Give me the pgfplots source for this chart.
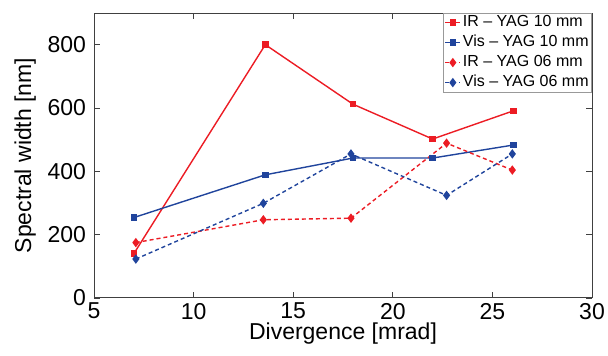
\documentclass[border=0pt]{standalone}
\usepackage{fontspec}
\setmainfont{Liberation Sans}
\usepackage{pgfplots}
\pgfplotsset{compat=1.18}
\definecolor{myred}{RGB}{236,28,36}
\definecolor{myblue}{RGB}{32,68,156}
\begin{document}
\fontsize{11.5}{13}\selectfont
\begin{tikzpicture}
\begin{axis}[
  scale only axis,
  width=249pt, height=142.5pt,
  xmin=5, xmax=30, ymin=0, ymax=900,
  xtick={5,10,15,20,25,30},
  ytick={0,200,400,600,800},
  tick align=inside,
  tick pos=both,
  major tick length=3pt,
  axis line style={black!75, line width=0.5pt},
  tick style={black!75, line width=0.4pt},
  /pgf/number format/assume math mode=true,
  ticklabel style={font=\fontsize{11.5}{13}\selectfont},
  xticklabel style={yshift=1.5pt},
  xlabel={Divergence [mrad]},
  ylabel={Spectral width [nm]},
  label style={font=\fontsize{11.5}{13}\selectfont},
  xlabel style={yshift=6pt},
  ylabel style={yshift=-2pt},
  legend style={at={(1,1)}, anchor=north east, font=\fontsize{8}{9.6}\selectfont,
    draw=black!40, inner sep=0.5pt, row sep=1.8pt, cells={anchor=west},
    nodes={inner xsep=1pt, inner ysep=0.4pt}},
  legend image code/.code={
    \draw[mark repeat=2,mark phase=2] plot coordinates {(0cm,0cm) (0.13cm,0cm) (0.26cm,0cm)};},
]
\addplot[myred, line width=0.7pt, mark=square*, mark size=1.3pt] coordinates {
 (7,140) (13.6,800) (18,612) (22,502) (26.05,591)};
\addlegendentry{IR -- YAG 10 mm}
\addplot[myblue, line width=0.7pt, mark=square*, mark size=1.3pt] coordinates {
 (7,254) (13.6,389) (18,442) (22,442) (26.05,483)};
\addlegendentry{Vis -- YAG 10 mm}
\addplot[myred, line width=0.7pt, dash pattern=on 2pt off 1.5pt, mark=diamond*, mark size=1.8pt, mark options={solid}] coordinates {
 (7.1,175) (13.5,247) (17.9,252) (22.7,489) (26,404)};
\addlegendentry{IR -- YAG 06 mm}
\addplot[myblue, line width=0.7pt, dash pattern=on 2pt off 1.5pt, mark=diamond*, mark size=1.8pt, mark options={solid}] coordinates {
 (7.1,123) (13.5,299) (17.9,455) (22.7,324) (26,455)};
\addlegendentry{Vis -- YAG 06 mm}
\end{axis}
\pgfresetboundingbox
\path ([shift={(-47pt,-29pt)}]current axis.south west) rectangle ([shift={(8pt,6.5pt)}]current axis.north east);
\end{tikzpicture}
\end{document}
